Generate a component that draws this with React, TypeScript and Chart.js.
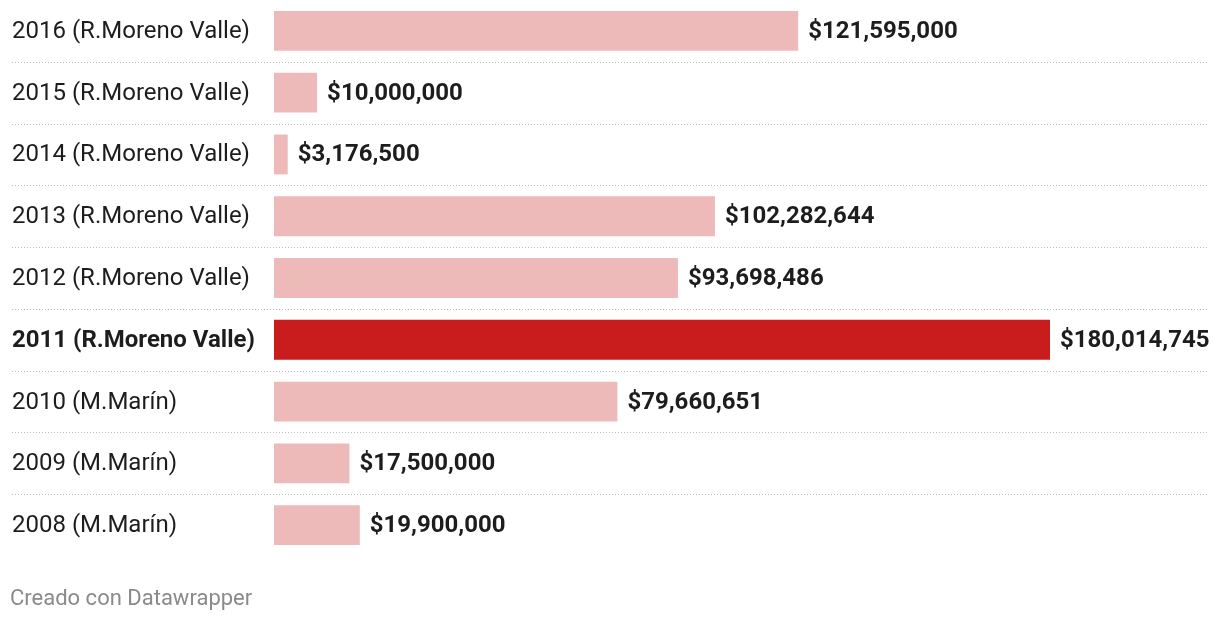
import React, { useEffect, useRef } from "react";
import { Chart, registerables } from "chart.js";
Chart.register(...registerables);

const categories = [
  "2016 (R.Moreno Valle)",
  "2015 (R.Moreno Valle)",
  "2014 (R.Moreno Valle)",
  "2013 (R.Moreno Valle)",
  "2012 (R.Moreno Valle)",
  "2011 (R.Moreno Valle)",
  "2010 (M.Marín)",
  "2009 (M.Marín)",
  "2008 (M.Marín)",
];
const values = [121595000, 10000000, 3176500, 102282644, 93698486, 180014745, 79660651, 17500000, 19900000];
const highlightIndex = 5;
const footerText = "Creado con Datawrapper";

const FONT = "Roboto";
const fmt = (v: number) => "$" + v.toLocaleString("en-US");

const overlayPlugin = {
  id: "overlay",
  afterDatasetsDraw(chart: any) {
    const ctx = chart.ctx;
    const meta = chart.getDatasetMeta(0);
    ctx.save();
    ctx.textBaseline = "middle";
    meta.data.forEach((bar: any, i: number) => {
      const y = bar.y;
      const bold = i === highlightIndex;
      ctx.fillStyle = "#1d1d1d";
      ctx.textAlign = "left";
      ctx.font = `${bold ? "bold " : ""}24px ${FONT}`;
      ctx.fillText(categories[i], 12, y + 1);
      ctx.font = `bold 24px ${FONT}`;
      ctx.fillText(fmt(values[i]), bar.x + 10, y + 1);
      if (i < meta.data.length - 1) {
        const next = meta.data[i + 1];
        const sy = Math.round((y + next.y) / 2) + 0.5;
        ctx.strokeStyle = "#bdbdbd";
        ctx.lineWidth = 1;
        ctx.setLineDash([1, 2]);
        ctx.beginPath();
        ctx.moveTo(12, sy);
        ctx.lineTo(1208, sy);
        ctx.stroke();
        ctx.setLineDash([]);
      }
    });
    ctx.font = `22px ${FONT}`;
    ctx.fillStyle = "#8a8a8a";
    ctx.textAlign = "left";
    ctx.fillText(footerText, 10, 599);
    ctx.restore();
  },
};

export default function App() {
  const ref = useRef<HTMLCanvasElement | null>(null);
  useEffect(() => {
    if (!ref.current) return;
    const chart = new Chart(ref.current, {
      type: "bar",
      data: {
        labels: categories,
        datasets: [
          {
            data: values,
            backgroundColor: values.map((_, i) => (i === highlightIndex ? "#c91d1d" : "#eeb9b9")),
            barPercentage: 40 / 62,
            categoryPercentage: 1,
          },
        ],
      },
      options: {
        indexAxis: "y",
        animation: false,
        responsive: false,
        maintainAspectRatio: false,
        layout: { padding: { left: 274, right: 170, top: -2, bottom: 66 } },
        plugins: { legend: { display: false }, tooltip: { enabled: false } },
        scales: {
          x: { display: false, min: 0, max: 180014745 },
          y: { display: false },
        },
      },
      plugins: [overlayPlugin],
    });
    return () => chart.destroy();
  }, []);
  return (
    <div style={{ position: "fixed", left: 0, top: 0, width: 1220, height: 622, background: "#fff" }}>
      <canvas ref={ref} width={1220} height={622} style={{ width: 1220, height: 622 }} />
    </div>
  );
}
